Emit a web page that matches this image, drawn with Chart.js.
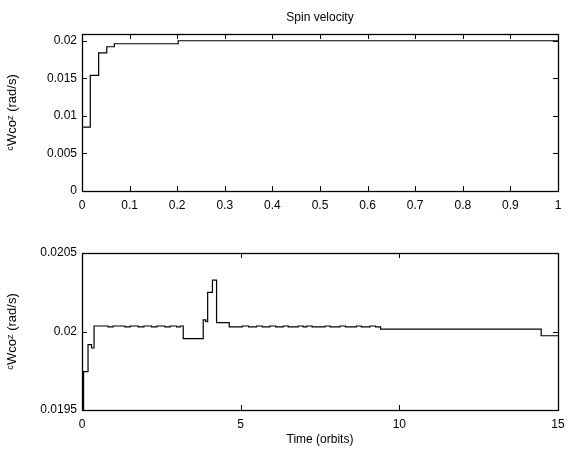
<!DOCTYPE html>
<html>
<head>
<meta charset="utf-8">
<script src="https://cdn.jsdelivr.net/npm/chart.js@4/dist/chart.umd.min.js"></script>
<style>
  body { margin: 0; background: #fff; }
  .panel { position: absolute; left: 0; width: 574px; height: 225px; }
</style>
</head>
<body>
<div class="panel" style="top:0"><canvas id="spinTop" width="574" height="225"></canvas></div>
<div class="panel" style="top:225px"><canvas id="spinBottom" width="574" height="225"></canvas></div>
<script>
// top panel: first orbit, change points of the stepped signal
const topTime = [0, 0.0174, 0.035, 0.052, 0.068, 0.202, 1];
const topSpin = [0.0085, 0.0154, 0.0184, 0.0192, 0.0196, 0.0200, 0.0200];

// bottom panel: 15 orbits
const bottomTime = [0, 0.05, 0.19, 0.30, 0.38, 0.82, 0.98, 1.35, 1.52, 1.77, 1.95, 2.19, 2.36, 2.61, 2.78, 2.98, 3.10,
  3.19, 3.82, 3.90, 3.96, 4.11, 4.24, 4.64, 5.05, 5.25, 5.50, 5.68, 5.92, 6.10, 6.34, 6.50, 6.81, 6.97, 7.08, 7.25,
  7.66, 7.82, 8.13, 8.30, 8.65, 8.80, 9.08, 9.25, 9.41, 14.47, 15];
const bottomSpin = [0.0195, 0.019745, 0.019916, 0.019895, 0.020035, 0.02003, 0.020035, 0.02003, 0.020035, 0.02003,
  0.020035, 0.02003, 0.020035, 0.02003, 0.020035, 0.02003, 0.020035,
  0.019954, 0.020074, 0.020062, 0.020249, 0.020327, 0.020057, 0.02003, 0.020035, 0.02003, 0.020035, 0.02003,
  0.020035, 0.02003, 0.020035, 0.02003, 0.020035, 0.02003, 0.020035, 0.02003,
  0.020035, 0.02003, 0.020035, 0.02003, 0.020035, 0.02003, 0.020035, 0.02003, 0.020015, 0.019973, 0.019973];

const topXTicks = [0, 0.1, 0.2, 0.3, 0.4, 0.5, 0.6, 0.7, 0.8, 0.9, 1];
const topYTicks = [0, 0.005, 0.01, 0.015, 0.02];
const bottomXTicks = [0, 5, 10, 15];
const bottomYTicks = [0.0195, 0.02, 0.0205];

const yLabel = 'ᶜWcoᶻ (rad/s)';

Chart.defaults.font.family = '"Liberation Sans", Arial, sans-serif';
Chart.defaults.font.size = 12;
Chart.defaults.color = '#000';

// matlab style box with ticks pointing inwards on all four sides
const boxTicks = {
  id: 'boxTicks',
  afterDatasetsDraw(chart) {
    const { ctx, chartArea: a, scales } = chart;
    const len = 5;
    ctx.save();
    ctx.strokeStyle = '#000';
    ctx.lineWidth = 1;
    ctx.beginPath();
    scales.x.ticks.forEach(t => {
      const px = Math.round(scales.x.getPixelForValue(t.value)) + 0.5;
      ctx.moveTo(px, a.bottom); ctx.lineTo(px, a.bottom - len);
      ctx.moveTo(px, a.top); ctx.lineTo(px, a.top + len);
    });
    scales.y.ticks.forEach(t => {
      const py = Math.round(scales.y.getPixelForValue(t.value)) + 0.5;
      ctx.moveTo(a.left, py); ctx.lineTo(a.left + len, py);
      ctx.moveTo(a.right, py); ctx.lineTo(a.right - len, py);
    });
    ctx.stroke();
    ctx.lineWidth = 1.3;
    ctx.strokeRect(Math.round(a.left) + 0.5, Math.round(a.top) + 0.5,
      Math.round(a.right - a.left), Math.round(a.bottom - a.top));
    ctx.restore();
  }
};

function makePanel(id, time, spin, xTicks, yTicks, xMax, yMin, yMax, opts) {
  const points = time.map((t, i) => ({ x: t, y: spin[i] }));
  return new Chart(document.getElementById(id), {
    type: 'line',
    data: {
      datasets: [{
        data: points,
        borderColor: '#000',
        borderWidth: 1.2,
        pointRadius: 0,
        stepped: true,
        fill: false
      }]
    },
    options: {
      responsive: false,
      animation: false,
      layout: { padding: opts.padding },
      plugins: {
        legend: { display: false },
        tooltip: { enabled: false },
        title: opts.title
      },
      scales: {
        x: {
          type: 'linear',
          min: 0,
          max: xMax,
          grid: { display: false, drawTicks: false },
          border: { display: false },
          afterBuildTicks: s => { s.ticks = xTicks.map(v => ({ value: v })); },
          afterFit: s => { s.height = opts.xHeight; },
          ticks: { padding: 7, maxRotation: 0, autoSkip: false, callback: v => String(v) },
          title: opts.xTitle
        },
        y: {
          min: yMin,
          max: yMax,
          grid: { display: false, drawTicks: false },
          border: { display: false },
          afterBuildTicks: s => { s.ticks = yTicks.map(v => ({ value: v })); },
          afterFit: s => { s.width = 82; s.paddingTop = 0; s.paddingBottom = 0; },
          ticks: { padding: 5, autoSkip: false, callback: v => String(v) },
          title: { display: true, text: yLabel, font: { size: 13 }, padding: { top: 5, bottom: 0 } }
        }
      }
    },
    plugins: [boxTicks]
  });
}

makePanel('spinTop', topTime, topSpin, topXTicks, topYTicks, 1, 0, 0.0209, {
  padding: { top: 0, right: 16, bottom: 0, left: 0 },
  xHeight: 34,
  title: {
    display: true,
    text: 'Spin velocity',
    fullSize: false,
    padding: { top: 10.5, bottom: 9.1 },
    font: { size: 12, weight: 'normal' },
    color: '#000'
  },
  xTitle: { display: false }
});

makePanel('spinBottom', bottomTime, bottomSpin, bottomXTicks, bottomYTicks, 15, 0.0195, 0.0205, {
  padding: { top: 28, right: 16, bottom: 0, left: 0 },
  xHeight: 40,
  title: { display: false },
  xTitle: { display: true, text: 'Time (orbits)', padding: { top: 0, bottom: 2.8 } }
});
</script>
</body>
</html>
